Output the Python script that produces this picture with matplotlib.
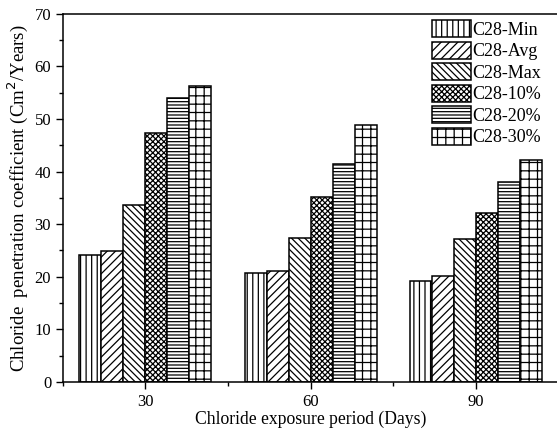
import numpy as np
import matplotlib
matplotlib.use("Agg")
import matplotlib.pyplot as plt
from matplotlib.ticker import MultipleLocator

plt.rcParams['font.family'] = ['Liberation Serif', 'DejaVu Serif']
plt.rcParams['hatch.linewidth'] = 0.9

days = [30, 60, 90]
series = ['C28-Min', 'C28-Avg', 'C28-Max', 'C28-10%', 'C28-20%', 'C28-30%']
c28_min = [24.1, 20.7, 19.2]
c28_avg = [24.8, 21.0, 20.1]
c28_max = [33.6, 27.4, 27.1]
c28_10 = [47.4, 35.1, 32.1]
c28_20 = [54.0, 41.4, 38.0]
c28_30 = [56.3, 48.9, 42.2]
hatches = ['|||', '////', '\\\\\\\\\\', 'xxxxxx', '-----', '++']

values = [c28_min, c28_avg, c28_max, c28_10, c28_20, c28_30]

fig = plt.figure(figsize=(5.57, 4.32), dpi=100)
ax = fig.add_axes([0.113, 0.116, 0.889, 0.852])

width = 4.0
x = np.array(days, dtype=float)
for i, (name, vals, h) in enumerate(zip(series, values, hatches)):
    offs = (i - 2.5) * width
    ax.bar(x + offs, vals, width, label=name, color='white', edgecolor='black',
           hatch=h, linewidth=1.1)

ax.set_xlim(15, 105)
ax.set_ylim(0, 70)
ax.set_xticks(days)
ax.xaxis.set_minor_locator(MultipleLocator(15))
ax.yaxis.set_major_locator(MultipleLocator(10))
ax.yaxis.set_minor_locator(MultipleLocator(5))
ax.tick_params(axis='both', which='major', direction='out', length=5, width=1, labelsize=12)
ax.tick_params(axis='both', which='minor', direction='out', length=3, width=1)
ax.spines['right'].set_visible(False)
for s in ['left', 'top', 'bottom']:
    ax.spines[s].set_linewidth(1.1)

ax.set_xlabel('Chloride exposure period (Days)', fontsize=12.7, labelpad=1)
ax.set_ylabel('Chloride  penetration coefficient (Cm$^2$/Years)', fontsize=13.5, labelpad=3)

ax.legend(loc='upper left', frameon=False, fontsize=13, handlelength=2.15,
          handleheight=1.1, labelspacing=0.15, handletextpad=0.1,
          borderpad=0, borderaxespad=0, bbox_to_anchor=(0.745, 0.983))

fig.savefig('out.png', dpi=100)
